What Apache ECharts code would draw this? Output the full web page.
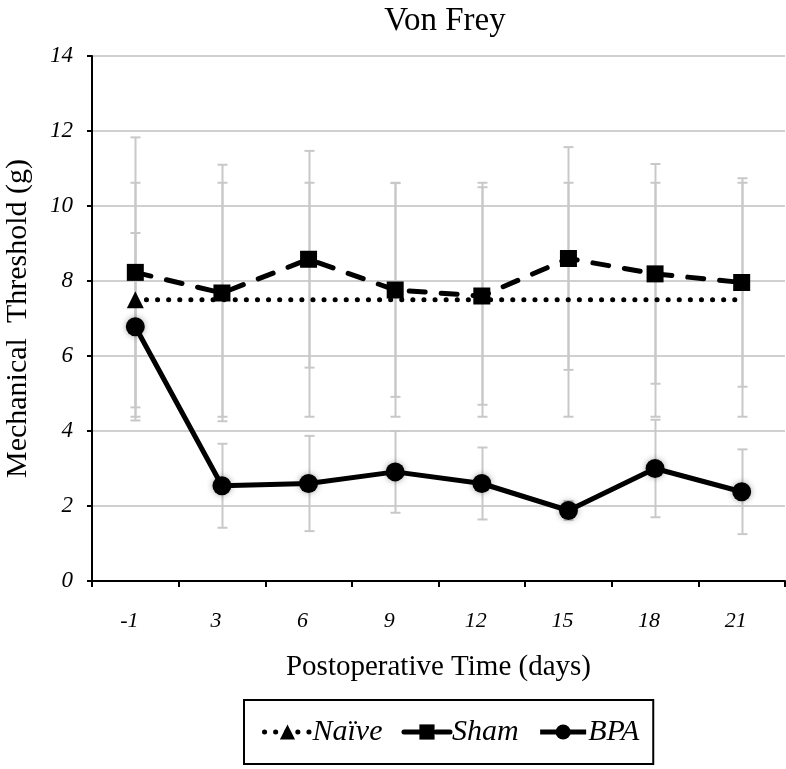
<!DOCTYPE html>
<html><head><meta charset="utf-8">
<script src="https://cdn.jsdelivr.net/npm/echarts@6/dist/echarts.min.js"></script>
<style>html,body{margin:0;padding:0;background:#fff}#c{width:786px;height:769px}</style>
</head><body><div id="c"></div>
<script>
const categories = ['-1','3','6','9','12','15','18','21'];
const yTicks = [0,2,4,6,8,10,12,14];
const naive = [7.5,7.5,7.5,7.5,7.5,7.5,7.5,7.5];
const naiveErr = [3.12,3.12,3.12,3.12,3.12,3.12,3.12,3.12];
const sham = [8.23,7.68,8.58,7.76,7.6,8.6,8.19,7.96];
const shamErr = [3.6,3.42,2.89,2.85,2.9,2.97,2.93,2.78];
const bpa = [6.78,2.54,2.6,2.91,2.6,1.88,3.0,2.38];
const bpaErr = [2.5,1.12,1.27,1.09,0.96,0.25,1.3,1.13];

const serif = 'Liberation Serif';
function errData(vals, errs){ return vals.map((v,i)=>[i, v-errs[i], v+errs[i]]); }
function errSeries(vals, errs){
  return {
    type:'custom', silent:true, z:1,
    data: errData(vals, errs),
    encode:{x:0, y:[1,2]},
    renderItem:function(params, api){
      const lo = api.coord([api.value(0), api.value(1)]);
      const hi = api.coord([api.value(0), api.value(2)]);
      const x = Math.round(lo[0]) + 0.5, h = 5;
      const st = {stroke:'#c8c8c8', lineWidth:2};
      return {type:'group', children:[
        {type:'line', shape:{x1:x,y1:lo[1],x2:x,y2:hi[1]}, style:st},
        {type:'line', shape:{x1:x-h,y1:lo[1],x2:x+h,y2:lo[1]}, style:st},
        {type:'line', shape:{x1:x-h,y1:hi[1],x2:x+h,y2:hi[1]}, style:st}
      ]};
    }
  };
}
const chart = echarts.init(document.getElementById('c'));
chart.setOption({
  animation:false,
  backgroundColor:'#fff',
  title:{text:'Von Frey', left:440, top:0, textAlign:'center',
    textStyle:{fontFamily:serif, fontWeight:'normal', fontSize:33, color:'#000'}},
  grid:{left:92, right:1, top:56, bottom:188, containLabel:false, outerBoundsMode:'none'},
  legend:{
    data:['Naïve','Sham','BPA'],
    left:244, top:700, orient:'horizontal',
    borderColor:'#000', borderWidth:2, padding:[17,14,17,18],
    itemWidth:46, itemHeight:19, itemGap:19,
    lineStyle:{width:5},
    textStyle:{fontFamily:serif, fontStyle:'italic', fontSize:30, color:'#000', padding:[2,0,0,-3]}
  },
  xAxis:{
    type:'category', data:categories, boundaryGap:true,
    axisLine:{lineStyle:{color:'#000', width:2}},
    axisTick:{show:true, length:6, lineStyle:{color:'#000', width:2}},
    axisLabel:{fontFamily:serif, fontStyle:'italic', fontSize:22, color:'#000', margin:29, padding:[0,12,0,0]},
    splitLine:{show:false},
    name:'Postoperative Time (days)', nameLocation:'middle', nameGap:72,
    nameTextStyle:{fontFamily:serif, fontSize:29, color:'#000'}
  },
  yAxis:{
    type:'value', min:0, max:14, interval:2,
    axisLine:{show:true, lineStyle:{color:'#000', width:2}},
    axisTick:{show:true, length:5, lineStyle:{color:'#000', width:2}},
    axisLabel:{fontFamily:serif, fontStyle:'italic', fontSize:23, color:'#000', margin:19,
      formatter:function(v){ return yTicks.indexOf(v)>=0 ? String(v) : ''; }},
    splitLine:{show:true, lineStyle:{color:'#d0d0d0', width:2}},
    name:'Mechanical  Threshold (g)', nameLocation:'middle', nameGap:59,
    nameTextStyle:{fontFamily:serif, fontSize:30, color:'#000'}
  },
  series:[
    errSeries(sham, shamErr),
    errSeries(naive, naiveErr),
    errSeries(bpa, bpaErr),
    {name:'Naïve', type:'line', z:3,
     data: naive.map((v,i)=> i===0 ? {value:v} : {value:v, symbol:'none'}),
     symbol:'triangle', symbolSize:17, showAllSymbol:true,
     itemStyle:{color:'#000'},
     lineStyle:{color:'#000', width:5, type:[0.1,11], cap:'round'}},
    {name:'Sham', type:'line', z:4, data:sham,
     symbol:'rect', symbolSize:17,
     itemStyle:{color:'#000'},
     lineStyle:{color:'#000', width:5, type:[16,16], cap:'round'}},
    {name:'BPA', type:'line', z:5, data:bpa,
     symbol:'circle', symbolSize:19,
     itemStyle:{color:'#000', shadowBlur:6, shadowColor:'rgba(0,0,0,0.35)'},
     lineStyle:{color:'#000', width:5}}
  ]
});
</script></body></html>
